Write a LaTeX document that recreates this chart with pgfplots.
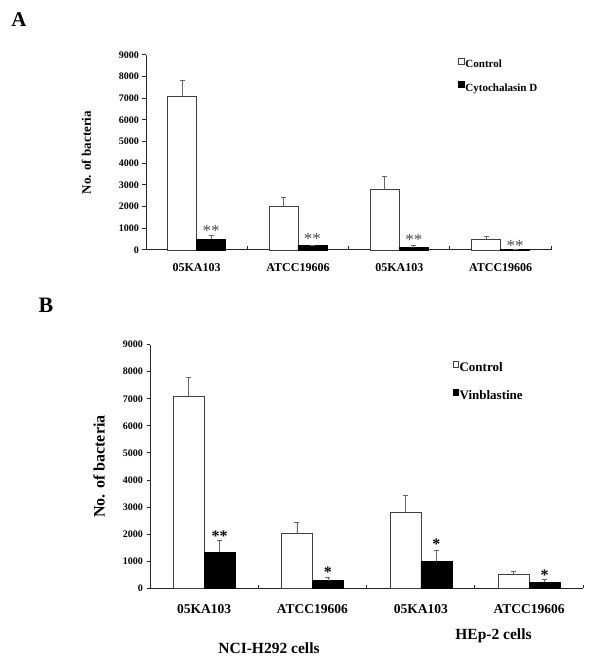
\documentclass[border=0pt]{standalone}
\usepackage{fontspec}
\setmainfont{Liberation Serif}
\usepackage{pgfplots}
\pgfplotsset{compat=1.18}

\pgfplotsset{
  cellbar/.style={
    scale only axis,
    xmin=0, xmax=4, ymin=0, ymax=9000,
    axis x line*=bottom, axis y line*=left,
    axis line style={line width=1pt, black!85},
    ybar=0pt,
    xtick={1,2,3,4}, xticklabels={},
    xtick align=inside, ytick align=outside,
    major tick length=3.5pt,
    every tick/.style={line width=1pt, black!85},
    extra x ticks={0.5,1.5,2.5,3.5},
    extra x tick labels={05KA103,ATCC19606,05KA103,ATCC19606},
    extra x tick style={tick style={draw=none}},
    ytick={0,1000,...,9000},
    /pgf/number format/1000 sep={},
    /pgf/number format/assume math mode=true,
    clip=false,
    legend image code/.code={\draw[##1, line width=0.5pt] (0pt,1pt) rectangle (5.5pt,6.5pt);},
    legend cell align=left,
  },
  ctrl/.style={fill=white, draw=black!75, line width=0.6pt},
  trt/.style={fill=black, draw=black, line width=0.6pt},
  errs/.style={error bars/.cd, y dir=plus, y explicit,
    error bar style={black!60, line width=0.7pt},
    error mark=-,
    error mark options={black!60, rotate=90, mark size=2.5pt, line width=0.7pt}},
}

\begin{document}
\begin{tikzpicture}[x=1pt,y=1pt]
\useasboundingbox (0,0) rectangle (600,669);

% panel labels
\node[font=\fontsize{21}{24}\selectfont\bfseries] at (19,649) {A};
\node[font=\fontsize{22}{26}\selectfont\bfseries] at (46,364) {B};

% ---------- panel A
\begin{axis}[cellbar,
  width=405.3pt, height=195pt,
  at={(146pt,419pt)}, anchor=south west,
  bar width=29pt,
  yticklabel style={font=\fontsize{10}{12}\selectfont\bfseries},
  xticklabel style={font=\fontsize{12}{14}\selectfont\bfseries, anchor=base, yshift=-22pt},
  ylabel={No. of bacteria},
  ylabel style={font=\fontsize{13}{15}\selectfont\bfseries, at={(axis description cs:-0.147,0.5)}, anchor=center},
  legend style={draw=none, fill=none, at={(axis description cs:0.763,0.995)}, anchor=north west,
    font=\fontsize{11}{13}\selectfont\bfseries, row sep=11pt,
    nodes={inner sep=1pt}},
]
\addplot[ctrl, errs] coordinates {
  (0.5,7100) +- (0,720)
  (1.5,2010) +- (0,420)
  (2.5,2800) +- (0,620)
  (3.5,508)  +- (0,100)
};
\addlegendentry{Control}
\addplot[trt, errs] coordinates {
  (0.5,494) +- (0,195)
  (1.5,217) +- (0,20)
  (2.5,106) +- (0,110)
  (3.5,15)  +- (0,0)
};
\addlegendentry{Cytochalasin D}
\node[font=\fontsize{17}{19}\selectfont, text=black!70] at (axis cs:0.643,900) {**};
\node[font=\fontsize{17}{19}\selectfont, text=black!70] at (axis cs:1.643,500) {**};
\node[font=\fontsize{17}{19}\selectfont, text=black!70] at (axis cs:2.643,480) {**};
\node[font=\fontsize{17}{19}\selectfont, text=black!70] at (axis cs:3.643,200) {**};
\end{axis}

% ---------- panel B
\begin{axis}[cellbar,
  width=433.3pt, height=244pt,
  at={(150pt,80.5pt)}, anchor=south west,
  bar width=31pt,
  yticklabel style={font=\fontsize{10}{12}\selectfont\bfseries},
  xticklabel style={font=\fontsize{13.5}{16}\selectfont\bfseries, anchor=base, yshift=-25.5pt},
  ylabel={No. of bacteria},
  ylabel style={font=\fontsize{16}{19}\selectfont\bfseries, at={(axis description cs:-0.1177,0.5)}, anchor=center},
  legend style={draw=none, fill=none, at={(axis description cs:0.691,0.94)}, anchor=north west,
    font=\fontsize{13}{15}\selectfont\bfseries, row sep=15pt,
    nodes={inner sep=1pt}},
]
\addplot[ctrl, errs] coordinates {
  (0.5,7107) +- (0,690)
  (1.5,2030) +- (0,410)
  (2.5,2804) +- (0,620)
  (3.5,520)  +- (0,120)
};
\addlegendentry{Control}
\addplot[trt, errs] coordinates {
  (0.5,1335) +- (0,430)
  (1.5,285)  +- (0,120)
  (2.5,1005) +- (0,410)
  (3.5,234)  +- (0,90)
};
\addlegendentry{Vinblastine}
\node[font=\fontsize{16}{18}\selectfont\bfseries] at (axis cs:0.643,1940) {**};
\node[font=\fontsize{16}{18}\selectfont\bfseries] at (axis cs:1.643,600) {*};
\node[font=\fontsize{16}{18}\selectfont\bfseries] at (axis cs:2.643,1640) {*};
\node[font=\fontsize{16}{18}\selectfont\bfseries] at (axis cs:3.643,480) {*};
\end{axis}

\node[font=\fontsize{15.5}{18}\selectfont\bfseries] at (269,21.3) {NCI-H292 cells};
\node[font=\fontsize{15.5}{18}\selectfont\bfseries] at (493.5,33) {HEp-2 cells};
\end{tikzpicture}
\end{document}
